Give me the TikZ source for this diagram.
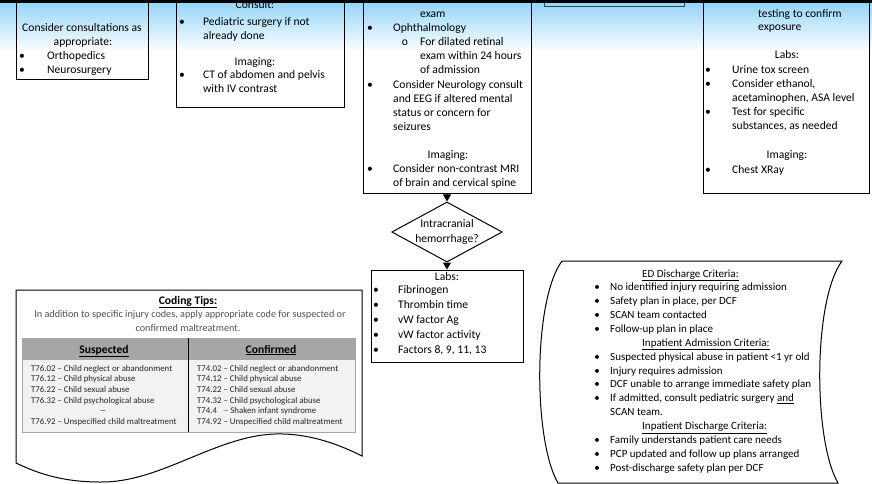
\documentclass[tikz,border=0pt]{standalone}
\usepackage{fontspec}
\setmainfont{Carlito}
\usetikzlibrary{shapes.geometric,arrows.meta}
\definecolor{bandblue}{RGB}{150,214,248}
\definecolor{hdrgray}{RGB}{166,166,166}
\definecolor{rowgray}{RGB}{242,242,242}
\definecolor{tipgray}{RGB}{80,80,80}
\definecolor{noteline}{RGB}{40,70,100}
\newcommand{\fs}{\fontsize{11.6}{13}\selectfont}
\newcommand{\fsd}{\fontsize{11}{13}\selectfont}

\begin{document}
\begin{tikzpicture}[
    x=1pt, y=-1pt,
    box/.style={draw, line width=1pt, inner sep=0pt},
    ln/.style={anchor=base west, inner sep=0pt, font=\fs},
    mid/.style={anchor=base, inner sep=0pt, font=\fs},
    hd/.style={anchor=base, inner sep=0pt, font=\fs\bfseries},
    crit/.style={anchor=base west, inner sep=0pt, font=\fsd},
    code/.style={anchor=base west, inner sep=0pt, font=\fontsize{8.8}{10}\selectfont, text=black!85},
    tri/.style={-{Triangle[length=7pt, width=8pt]}, line width=1pt}
  ]
  \useasboundingbox (0,0) rectangle (872,483);
  \clip (0,0) rectangle (872,483);

  % header band
  \shade[top color=bandblue, bottom color=white] (0,3) rectangle (872,52);

  % top row
  \node[box, minimum width=132pt, minimum height=99pt] (cons) at (82,29.5) {};
  \node[box, minimum width=168pt, minimum height=127pt] (consult) at (260,43.5) {};
  \node[box, minimum width=168pt, minimum height=213pt] (inj) at (447,86.5) {};
  \node[box, minimum width=140pt, minimum height=26pt, draw=noteline] (note) at (614,-7) {};
  \node[box, minimum width=166pt, minimum height=213pt] (tox) at (786,86.5) {};

  % consultations
  \node[mid] (cons1) at (82,31.5) {Consider consultations as};
  \node[mid] (cons2) at (83,45.5) {appropriate:};
  \foreach \i/\t in {1/Orthopedics, 2/Neurosurgery} {
    \node[mid] (consb\i) at (22,{45.5+14*\i}) {\textbullet};
    \node[ln] (consi\i) at (47,{45.5+14*\i}) {\t};
  }

  % consult / imaging
  \node[mid] (cst0) at (255,8.5) {Consult:};
  \node[mid] (cstb1) at (182,25.5) {\textbullet};
  \node[ln] (cst1) at (203,25.5) {Pediatric surgery if not};
  \node[ln] (cst2) at (203,39) {already done};
  \node[mid] (cstimg) at (255,65.5) {Imaging:};
  \node[mid] (cstb2) at (182,78.5) {\textbullet};
  \node[ln] (cst3) at (203,78.5) {CT of abdomen and pelvis};
  \node[ln] (cst4) at (203,92) {with IV contrast};

  % head injury
  \node[ln] (inj0) at (420,17.5) {exam};
  \node[mid] (injb1) at (370,31.6) {\textbullet};
  \node[ln] (inj1) at (393,31.6) {Ophthalmology};
  \node[mid] (injo) at (405,45.7) {o};
  \foreach \i/\t in {0/For dilated retinal, 1/exam within 24 hours, 2/of admission}
    \node[ln] (injs\i) at (420,{45.7+14.1*\i}) {\t};
  \node[mid] (injb2) at (370,88) {\textbullet};
  \foreach \i/\t in {0/Consider Neurology consult, 1/and EEG if altered mental, 2/status or concern for, 3/seizures}
    \node[ln] (injn\i) at (393,{88+14.1*\i}) {\t};
  \node[mid] (injimg) at (448,158.5) {Imaging:};
  \node[mid] (injb3) at (370,172.6) {\textbullet};
  \node[ln] (injm1) at (393,172.6) {Consider non-contrast MRI};
  \node[ln] (injm2) at (393,186.7) {of brain and cervical spine};

  % toxicology
  \node[ln] (tox0) at (758,17.5) {testing to confirm};
  \node[ln] (tox1) at (758,30.5) {exposure};
  \node[mid] (toxlabs) at (787,58.5) {Labs:};
  \foreach \i in {0,1,3}
    \node[mid] (toxb\i) at (708,{73.5+14*\i}) {\textbullet};
  \foreach \i/\t in {0/Urine tox screen, 1/{Consider ethanol,}, 2/{acetaminophen, ASA level}, 3/Test for specific, 4/{substances, as needed}}
    \node[ln] (toxt\i) at (732,{73.5+14*\i}) {\t};
  \node[mid] (toximg) at (787,158.5) {Imaging:};
  \node[mid] (toxb5) at (708,173.5) {\textbullet};
  \node[ln] (toxt5) at (732,173.5) {Chest XRay};

  % decision and labs
  \node[diamond, draw, line width=1pt, aspect=1.84, minimum width=103pt, minimum height=56pt,
        inner sep=0pt, align=center, font=\fontsize{11.6}{15.5}\selectfont] (ich) at (447,232)
        {Intracranial\\hemorrhage?};
  \node[box, minimum width=152pt, minimum height=92pt] (labs) at (447,316) {};
  \node[mid] (labs0) at (447,280.5) {Labs:};
  \foreach \i/\t in {1/Fibrinogen, 2/Thrombin time, 3/vW factor Ag, 4/vW factor activity, 5/{Factors 8, 9, 11, 13}} {
    \node[mid] (labsb\i) at (376,{278.5+15*\i}) {\textbullet};
    \node[ln] (labst\i) at (398,{278.5+15*\i}) {\t};
  }
  \draw[tri] (inj) -- (ich);
  \draw[tri] (ich) -- (labs);

  % coding tips
  \draw[line width=1pt] (16,290) -- (362,290) -- (362,456)
    .. controls (340,445) and (310,433) .. (275,434)
    .. controls (215,436) and (160,483) .. (100,482)
    .. controls (60,482) and (35,472) .. (16,463) -- cycle;
  \node[hd] (tips) at (188,304) {\underline{Coding Tips:}};
  \node[anchor=base, inner sep=0pt, font=\fontsize{10.2}{11}\selectfont, text=tipgray] (tips1) at (190,317.5)
    {In addition to specific injury codes, apply appropriate code for suspected or};
  \node[anchor=base, inner sep=0pt, font=\fontsize{10.2}{11}\selectfont, text=tipgray] (tips2) at (188,331.5)
    {confirmed maltreatment.};
  \fill[hdrgray] (22,338) rectangle (355,359);
  \filldraw[fill=rowgray, draw=black!35] (22,359) rectangle (355,432);
  \draw[black!35] (22,338) rectangle (355,432);
  \draw[line width=0.8pt] (188,338) -- (188,432);
  \node[hd] (susp) at (104,353) {\underline{Suspected}};
  \node[hd] (conf) at (271,353) {\underline{Confirmed}};
  \foreach \i/\t in {0/T76.02 -- Child neglect or abandonment, 1/T76.12 -- Child physical abuse,
      2/T76.22 -- Child sexual abuse, 3/T76.32 -- Child psychological abuse, 5/T76.92 -- Unspecified child maltreatment}
    \node[code] (s\i) at (31,{371+10.7*\i}) {\t};
  \node[code, anchor=base] (s4) at (103,{371+10.7*4}) {-{}-};
  \foreach \i/\t in {0/T74.02 -- Child neglect or abandonment, 1/T74.12 -- Child physical abuse,
      2/T74.22 -- Child sexual abuse, 3/T74.32 -- Child psychological abuse,
      4/T74.4\hspace{5pt} -- Shaken infant syndrome, 5/T74.92 -- Unspecified child maltreatment}
    \node[code] (c\i) at (197,{371+10.7*\i}) {\t};

  % discharge criteria
  \draw[line width=1pt] (562,261) -- (842,261)
    .. controls (813,300) and (813,440) .. (838,483) -- (558,483)
    .. controls (533,440) and (533,300) .. (562,261) -- cycle;
  \node[crit] (edh1) at (642,277) {\underline{ED Discharge Criteria:}};
  \foreach \i/\t in {1/No identified injury requiring admission, 2/{Safety plan in place, per DCF},
      3/SCAN team contacted, 4/Follow-up plan in place, 6/Suspected physical abuse in patient <1 yr old,
      7/Injury requires admission, 8/DCF unable to arrange immediate safety plan,
      9/{If admitted, consult pediatric surgery \underline{and}}, 12/Family understands patient care needs,
      13/PCP updated and follow up plans arranged, 14/Post-discharge safety plan per DCF} {
    \node[crit, anchor=base] (edb\i) at (597,{277+13.86*\i}) {\textbullet};
    \node[crit] (edt\i) at (610,{277+13.86*\i}) {\t};
  }
  \node[crit] (edt10) at (610,{277+13.86*10}) {SCAN team.};
  \node[crit] (edh2) at (642,{277+13.86*5}) {\underline{Inpatient Admission Criteria:}};
  \node[crit] (edh3) at (642,{277+13.86*11}) {\underline{Inpatient Discharge Criteria:}};

  % top rule
  \fill (0,0) rectangle (872,3);
\end{tikzpicture}
\end{document}
